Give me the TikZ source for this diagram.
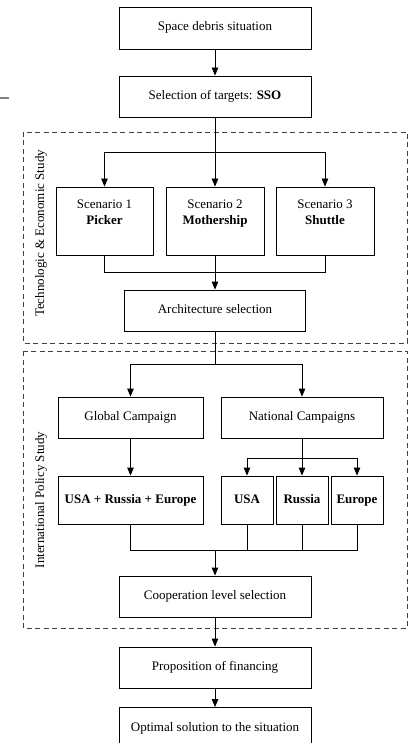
\documentclass[tikz,border=0pt]{standalone}
\usepackage{fontspec}
\setmainfont{Liberation Serif}
\usepackage{tikz}
\usetikzlibrary{calc,arrows.meta}

\begin{document}
\begin{tikzpicture}[x=1pt,y=-1pt,
		box/.style={draw,line width=0.8pt,inner sep=0pt,minimum height=41pt,text height=9pt,text depth=3pt,font=\fontsize{13pt}{16pt}\selectfont},
		plain/.style={inner sep=0pt,align=center,font=\fontsize{13pt}{16pt}\selectfont},
		frame/.style={draw=black!75,line width=0.8pt,dash pattern=on 5pt off 3.5pt},
		arr/.style={-{Triangle[length=8pt,width=6.5pt]}},
		link/.style={line width=0.8pt}]
			\useasboundingbox (0,0) rectangle (408,743);
			\draw[gray,line width=1.5pt] (0,98) -- (9,98);
			
			% study frames
			\draw[frame] (23,132) rectangle (407,343);
			\draw[frame] (23,351) rectangle (407,628);
			\node[plain,rotate=90] (techlbl) at (41,233.5) {Technologic \& Economic Study};
			\node[plain,rotate=90] (intlbl) at (41,500) {International Policy Study};
			
			\node[box,minimum width=192pt,minimum height=42pt] (sit) at (215,28) {Space debris situation};
			\node[box,minimum width=192pt] (sel) at (215,96.5) {Selection of targets: \textbf{SSO}};
			
			\node[box,minimum width=97pt,minimum height=68pt] (s1) at (104.5,221) {};
			\node[box,minimum width=98pt,minimum height=68pt] (s2) at (215,221) {};
			\node[box,minimum width=98pt,minimum height=68pt] (s3) at (325,221) {};
			\node[plain] (s1t) at (104.5,215) {Scenario 1\\\textbf{Picker}\strut};
			\node[plain] (s2t) at (215,215) {Scenario 2\\\textbf{Mothership}\strut};
			\node[plain] (s3t) at (325,215) {Scenario 3\\\textbf{Shuttle}\strut};
			
			\node[box,minimum width=181pt] (arch) at (215,310.5) {Architecture selection};
			
			\node[box,minimum width=145pt] (glob) at (130.5,417.5) {Global Campaign};
			\node[box,minimum width=162pt] (nat) at (302,417.5) {National Campaigns};
			
			\node[box,minimum width=145pt,minimum height=48pt] (all) at (130.5,500) {\textbf{USA + Russia + Europe}};
			\node[box,minimum width=52pt,minimum height=48pt] (usa) at (247,500) {\textbf{USA}};
			\node[box,minimum width=52pt,minimum height=48pt] (rus) at (302,500) {\textbf{Russia}};
			\node[box,minimum width=52pt,minimum height=48pt] (eur) at (357,500) {\textbf{Europe}};
			
			\node[box,minimum width=192pt] (coop) at (215,596.5) {Cooperation level selection};
			\node[box,minimum width=192pt] (fin) at (215,667.5) {Proposition of financing};
			\node[box,minimum width=192pt] (opt) at (215,728) {Optimal solution to the situation};
			
			% forks and joins
			\coordinate (f1) at (215,152);
			\coordinate (m1) at (215,272);
			\coordinate (f2) at (215,364);
			\coordinate (f3) at (302,458);
			\coordinate (m2) at (215,550);
			
			\draw[link,arr] (sit) -- (sel);
			\draw[link] (sel) -- (f1);
			\draw[link,arr] (f1) -| (s1);
			\draw[link,arr] (f1) -- (s2);
			\draw[link,arr] (f1) -| (s3);
			\draw[link] (s1) |- (m1);
			\draw[link] (s3) |- (m1);
			\draw[link] (s2) -- (m1);
			\draw[link,arr] (m1) -- (arch);
			\draw[link] (arch) -- (f2);
			\draw[link,arr] (f2) -| (glob);
			\draw[link,arr] (f2) -| (nat);
			\draw[link,arr] (glob) -- (all);
			\draw[link] (nat) -- (f3);
			\draw[link,arr] (f3) -| (usa);
			\draw[link,arr] (f3) -- (rus);
			\draw[link,arr] (f3) -| (eur);
			\draw[link] (all) |- (m2);
			\draw[link] (usa) |- (m2);
			\draw[link] (rus) |- (m2);
			\draw[link] (eur) |- (m2);
			\draw[link,arr] (m2) -- (coop);
			\draw[link,arr] (coop) -- (fin);
			\draw[link,arr] (fin) -- (opt);
		\end{tikzpicture}
\end{document}
